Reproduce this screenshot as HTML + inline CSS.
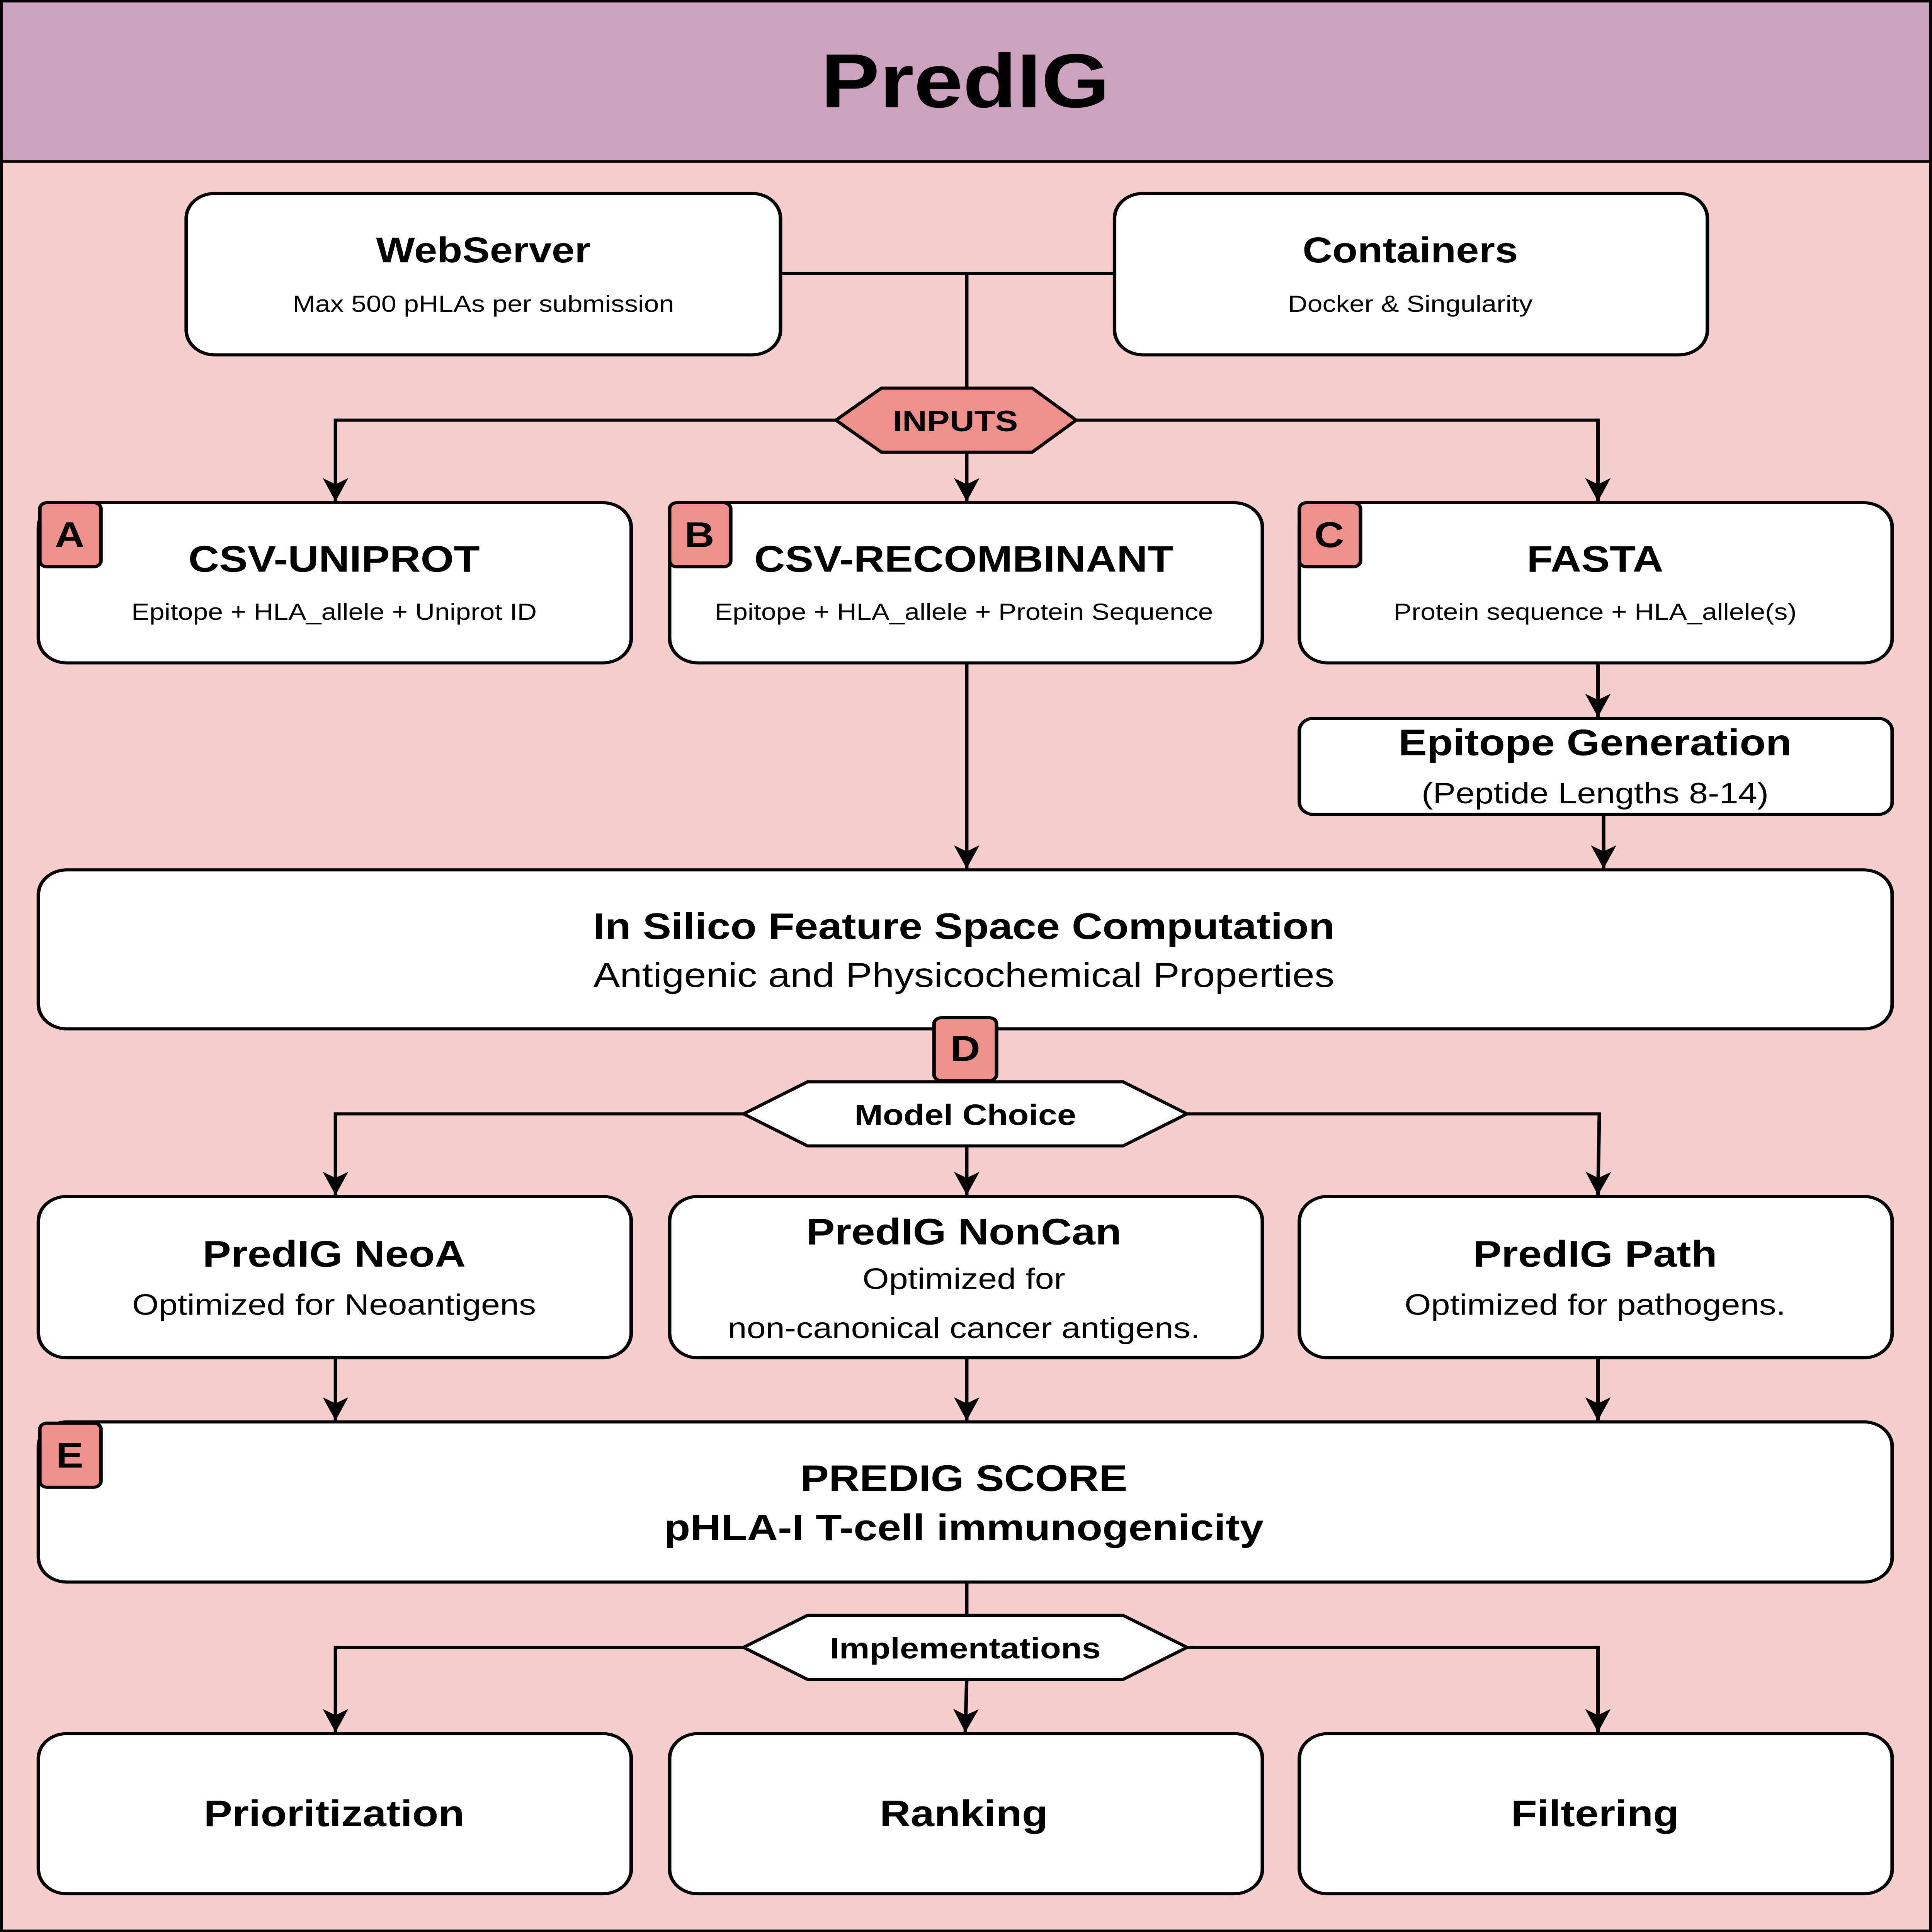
<!DOCTYPE html>
<html><head><meta charset="utf-8">
<style>
html,body{margin:0;padding:0;background:#fff;width:100vw;height:100vh;overflow:hidden;}
svg{display:block;width:100vw;height:100vh;}
text{font-family:"Liberation Sans",Arial,sans-serif;fill:#000;}
</style></head>
<body>
<svg viewBox="0 0 1359 1568" preserveAspectRatio="none" xmlns="http://www.w3.org/2000/svg">
<defs>
<marker id="a" viewBox="0 0 20 20" refX="19" refY="10" markerWidth="20" markerHeight="20" markerUnits="userSpaceOnUse" orient="auto">
<path d="M0,1 L19,10 L0,19 L5,10 Z" fill="#000"/>
</marker>
</defs>
<rect x="1" y="1" width="1357" height="1566" fill="#f5cecd" stroke="#000" stroke-width="2"/>
<rect x="1" y="1" width="1357" height="130" fill="#cda2be" stroke="#000" stroke-width="2"/>
<text x="679" y="87" font-size="62" font-weight="bold" text-anchor="middle">PredIG</text>

<g stroke="#000" stroke-width="2.5" fill="none">
<path d="M549,222 H784"/>
<path d="M680,222 V315"/>
<path d="M588,341 H236 V407" marker-end="url(#a)"/>
<path d="M757,341 H1124 V407" marker-end="url(#a)"/>
<path d="M680,367 V407" marker-end="url(#a)"/>
<path d="M1124,538 V582" marker-end="url(#a)"/>
<path d="M680,538 V705" marker-end="url(#a)"/>
<path d="M1128,661 V705" marker-end="url(#a)"/>
<path d="M523,904 H236 V970" marker-end="url(#a)"/>
<path d="M835,904 H1125 L1124,970" marker-end="url(#a)"/>
<path d="M680,930 V970" marker-end="url(#a)"/>
<path d="M236,1102 V1153" marker-end="url(#a)"/>
<path d="M680,1102 V1153" marker-end="url(#a)"/>
<path d="M1124,1102 V1153" marker-end="url(#a)"/>
<path d="M680,1284 V1311"/>
<path d="M523,1337 H236 V1406" marker-end="url(#a)"/>
<path d="M835,1337 H1124 V1406" marker-end="url(#a)"/>
<path d="M680,1363 L679,1406" marker-end="url(#a)"/>
</g>

<g fill="#fff" stroke="#000" stroke-width="2.5">
<rect x="131" y="157" width="418" height="131" rx="20"/>
<rect x="784" y="157" width="417" height="131" rx="20"/>
<rect x="27" y="408" width="417" height="130" rx="20"/>
<rect x="471" y="408" width="417" height="130" rx="20"/>
<rect x="914" y="408" width="417" height="130" rx="20"/>
<rect x="914" y="583" width="417" height="78" rx="10"/>
<rect x="27" y="706" width="1304" height="129" rx="20"/>
<rect x="27" y="971" width="417" height="131" rx="20"/>
<rect x="471" y="971" width="417" height="131" rx="20"/>
<rect x="914" y="971" width="417" height="131" rx="20"/>
<rect x="27" y="1154" width="1304" height="130" rx="20"/>
<rect x="27" y="1407" width="417" height="130" rx="20"/>
<rect x="471" y="1407" width="417" height="130" rx="20"/>
<rect x="914" y="1407" width="417" height="130" rx="20"/>
<polygon points="588,341 620,315 726,315 757,341 726,367 620,367" fill="#f0908a"/>
<polygon points="523,904 568,878 790,878 835,904 790,930 568,930"/>
<polygon points="523,1337 568,1311 790,1311 835,1337 790,1363 568,1363"/>
</g>
<g fill="#f0908a" stroke="#000" stroke-width="2.5">
<rect x="28" y="408" width="43" height="52" rx="5"/>
<rect x="471" y="408" width="43" height="52" rx="5"/>
<rect x="914" y="408" width="43" height="52" rx="5"/>
<rect x="657" y="826" width="44" height="51" rx="5"/>
<rect x="28" y="1155" width="43" height="52" rx="5"/>
</g>

<g font-weight="bold" font-size="29" text-anchor="middle">
<text x="49" y="444">A</text>
<text x="492" y="444">B</text>
<text x="935" y="444">C</text>
<text x="679" y="861">D</text>
<text x="49" y="1191">E</text>
</g>

<g text-anchor="middle">
<text x="340" y="213" font-size="29" font-weight="bold">WebServer</text>
<text x="340" y="253" font-size="19">Max 500 pHLAs per submission</text>
<text x="992" y="213" font-size="29" font-weight="bold">Containers</text>
<text x="992" y="253" font-size="19">Docker &amp; Singularity</text>
<text x="672" y="350" font-size="24" font-weight="bold">INPUTS</text>
<text x="235" y="464" font-size="30" font-weight="bold">CSV-UNIPROT</text>
<text x="235" y="503" font-size="19">Epitope + HLA_allele + Uniprot ID</text>
<text x="678" y="464" font-size="30" font-weight="bold">CSV-RECOMBINANT</text>
<text x="678" y="503" font-size="19">Epitope + HLA_allele + Protein Sequence</text>
<text x="1122" y="464" font-size="30" font-weight="bold">FASTA</text>
<text x="1122" y="503" font-size="19">Protein sequence + HLA_allele(s)</text>
<text x="1122" y="613" font-size="30" font-weight="bold">Epitope Generation</text>
<text x="1122" y="652" font-size="24">(Peptide Lengths 8-14)</text>
<text x="678" y="762" font-size="30" font-weight="bold">In Silico Feature Space Computation</text>
<text x="678" y="801" font-size="28">Antigenic and Physicochemical Properties</text>
<text x="679" y="913" font-size="24" font-weight="bold">Model Choice</text>
<text x="235" y="1028" font-size="30" font-weight="bold">PredIG NeoA</text>
<text x="235" y="1067" font-size="24">Optimized for Neoantigens</text>
<text x="678" y="1010" font-size="30" font-weight="bold">PredIG NonCan</text>
<text x="678" y="1046" font-size="24">Optimized for</text>
<text x="678" y="1086" font-size="24">non-canonical cancer antigens.</text>
<text x="1122" y="1028" font-size="30" font-weight="bold">PredIG Path</text>
<text x="1122" y="1067" font-size="24">Optimized for pathogens.</text>
<text x="678" y="1210" font-size="30" font-weight="bold">PREDIG SCORE</text>
<text x="678" y="1250" font-size="30" font-weight="bold">pHLA-I T-cell immunogenicity</text>
<text x="679" y="1346" font-size="24" font-weight="bold">Implementations</text>
<text x="235" y="1482" font-size="30" font-weight="bold">Prioritization</text>
<text x="678" y="1482" font-size="30" font-weight="bold">Ranking</text>
<text x="1122" y="1482" font-size="30" font-weight="bold">Filtering</text>
</g>
</svg>
</body></html>
